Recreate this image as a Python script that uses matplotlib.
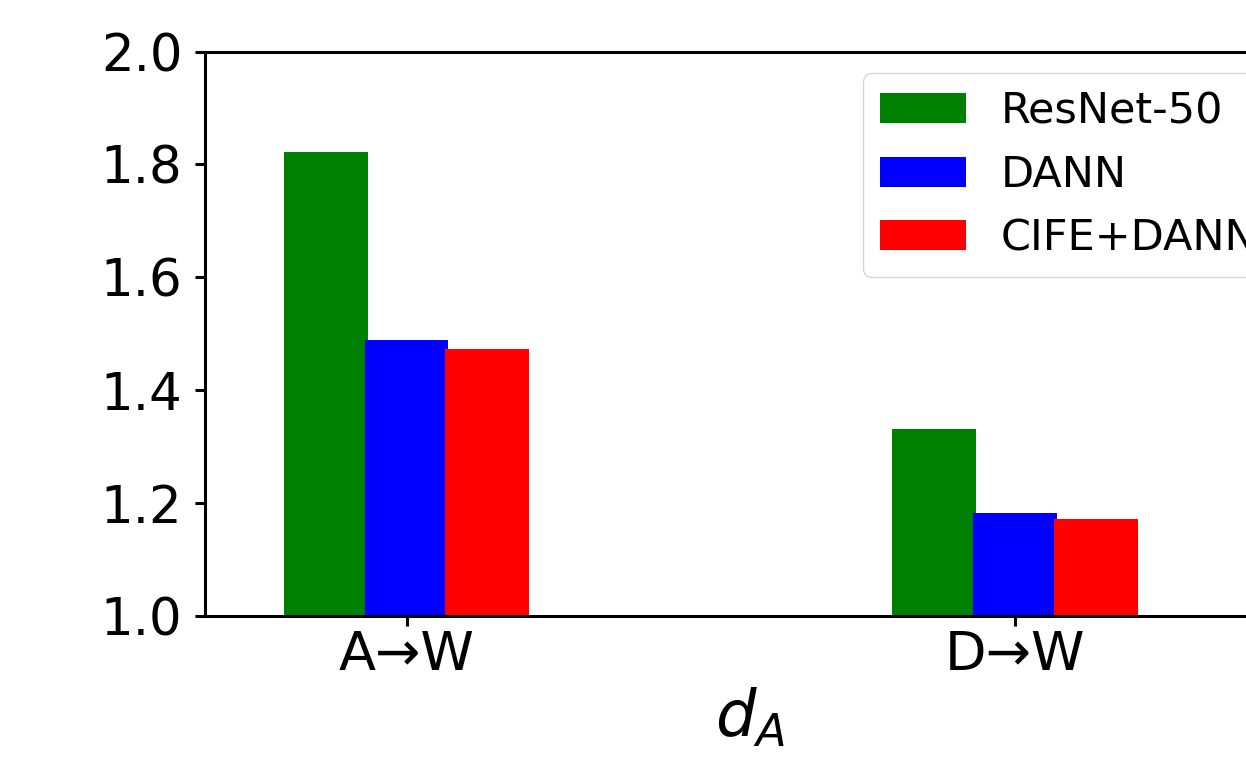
import matplotlib
matplotlib.use("Agg")
import matplotlib.pyplot as plt
import numpy as np

categories = ["A\u2192W", "D\u2192W"]
series_names = ["ResNet-50", "DANN", "CIFE+DANN"]
resnet50 = [1.822, 1.331]
dann = [1.489, 1.182]
cife_dann = [1.473, 1.172]
colors = ["green", "blue", "red"]

W, H = 1246, 763
fig = plt.figure(figsize=(W / 100, H / 100), dpi=100)
left, right, top, bottom = 205, 1295, 51.5, 616
ax = fig.add_axes([left / W, 1 - bottom / H, (right - left) / W, (bottom - top) / H])

x = np.arange(len(categories))
offset = 0.133
width = 0.138
for i, (vals, name, c) in enumerate(zip([resnet50, dann, cife_dann], series_names, colors)):
    ax.bar(x + (i - 1) * offset, np.array(vals) - 1.0, width, bottom=1.0, color=c, label=name)

ax.set_ylim(1.0, 2.0)
ax.set_yticks([1.0, 1.2, 1.4, 1.6, 1.8, 2.0])
ax.set_yticklabels(["1.0", "1.2", "1.4", "1.6", "1.8", "2.0"])
ax.set_xticks(x)
ax.set_xticklabels(categories)
ax.set_xlim(-(406.5 - left) / 608.5, (right - 406.5) / 608.5)

for s in ax.spines.values():
    s.set_linewidth(2.2)
ax.tick_params(axis="both", length=7.2, width=2.2)
ax.tick_params(axis="y", pad=9, labelsize=37)
ax.tick_params(axis="x", pad=2, labelsize=39)

ax.set_xlabel("$d_A$", fontsize=46, labelpad=4)

ax.legend(loc="upper left", bbox_to_anchor=(863 / W, 1 - 73 / H),
          bbox_transform=fig.transFigure, borderaxespad=0, fontsize=31)

fig.savefig("out.png", dpi=100)
